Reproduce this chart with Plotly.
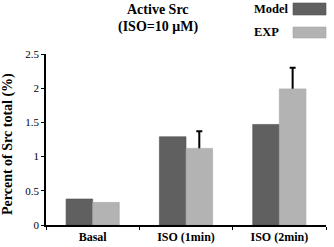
import plotly.graph_objects as go

categories = ["Basal", "ISO (1min)", "ISO (2min)"]
model_vals = [0.38, 1.29, 1.47]
exp_vals = [0.33, 1.12, 1.99]
exp_err = [None, 0.25, 0.31]
y_ticks = [0, 0.5, 1, 1.5, 2, 2.5]
y_tick_text = ["0", "0.5", "1", "1.5", "2", "2.5"]

DARK = "#606060"
LIGHT = "#b3b3b3"
FONT = "Liberation Serif"

W, H = 334, 247
ML, MR, MT, MB = 46, 8, 54, 22

fig = go.Figure()
fig.add_trace(go.Bar(x=categories, y=model_vals, name="Model", offsetgroup="m",
                     marker=dict(color=DARK, line=dict(color="#505050", width=0.6))))
# error bars only where the reference shows them; drawn beneath the EXP bars so
# only the upper whisker is visible
err_idx = [i for i, e in enumerate(exp_err) if e is not None]
fig.add_trace(go.Bar(x=[categories[i] for i in err_idx], y=[exp_vals[i] for i in err_idx],
                     name="EXP error", offsetgroup="e", showlegend=False, hoverinfo="skip",
                     marker=dict(color="rgba(0,0,0,0)", line=dict(width=0)),
                     error_y=dict(type="data", array=[exp_err[i] for i in err_idx],
                                  symmetric=False, arrayminus=[0.04] * len(err_idx),
                                  color="black", thickness=2, width=3)))
fig.add_trace(go.Bar(x=categories, y=exp_vals, name="EXP", offsetgroup="e",
                     marker=dict(color=LIGHT, line=dict(color="#a5a5a5", width=0.6))))

fig.update_layout(
    width=W, height=H,
    margin=dict(l=ML, r=MR, t=MT, b=MB, autoexpand=False),
    paper_bgcolor="white", plot_bgcolor="white",
    barmode="group", bargap=0.43, bargroupgap=0,
    showlegend=False,
    font=dict(family=FONT, color="black", size=11),
    xaxis=dict(showline=True, linecolor="black", linewidth=1.5,
               ticks="outside", ticklen=3, tickcolor="black",
               tickson="boundaries", showgrid=False, automargin=False,
               tickfont=dict(family=FONT, size=12, weight="bold")),
    yaxis=dict(range=[0, 2.5], tickvals=y_ticks, ticktext=y_tick_text,
               showline=True, linecolor="black", linewidth=1.5,
               ticks="outside", ticklen=3, tickcolor="black",
               showgrid=False, zeroline=False, automargin=False,
               tickfont=dict(family=FONT, size=11)),
)

def px(x):
    return (x - ML) / (W - ML - MR)
def py(y):
    return (H - MB - y) / (H - MT - MB)

# Y axis title
fig.add_annotation(text="<b>Percent of Src total (%)</b>", x=px(8), y=py(144),
                   xref="paper", yref="paper", showarrow=False, textangle=-90,
                   font=dict(family=FONT, size=14), xanchor="center", yanchor="middle")

# Title
fig.add_annotation(text="<b>Active Src</b>", x=px(158), y=py(9), xref="paper", yref="paper",
                   showarrow=False, font=dict(family=FONT, size=14), xanchor="center", yanchor="middle")
fig.add_annotation(text="<b>(ISO=10 μM)</b>", x=px(158), y=py(27), xref="paper", yref="paper",
                   showarrow=False, font=dict(family=FONT, size=14), xanchor="center", yanchor="middle")

# Legend
fig.add_annotation(text="<b>Model</b>", x=px(252), y=py(9), xref="paper", yref="paper",
                   showarrow=False, font=dict(family=FONT, size=12.5), xanchor="left", yanchor="middle")
fig.add_annotation(text="<b>EXP</b>", x=px(252), y=py(32), xref="paper", yref="paper",
                   showarrow=False, font=dict(family=FONT, size=12.5), xanchor="left", yanchor="middle")
fig.add_shape(type="rect", xref="paper", yref="paper", x0=px(293), x1=px(326), y0=py(3), y1=py(15),
              fillcolor=DARK, line=dict(color="#505050", width=0.6))
fig.add_shape(type="rect", xref="paper", yref="paper", x0=px(293), x1=px(326), y0=py(27), y1=py(38),
              fillcolor=LIGHT, line=dict(color="#a5a5a5", width=0.6))

fig.write_html("out.html", config={"displayModeBar": False},
               post_script="document.body.style.margin='0';document.body.style.overflow='hidden';")
